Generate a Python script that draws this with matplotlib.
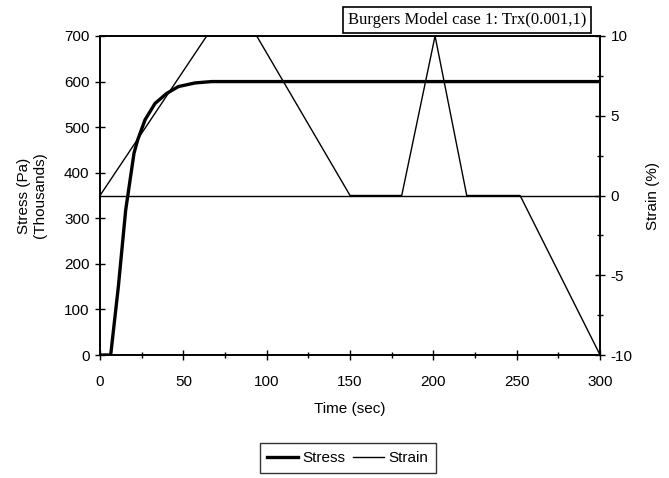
import numpy as np
import matplotlib.pyplot as plt
from matplotlib.ticker import MultipleLocator

# stress in thousands of Pa
stress_time = [0, 6.4, 11, 15.4, 20.4, 22.6, 27, 33, 40, 47, 57, 67, 300]
stress_val = [0, 0, 150, 318, 443, 472, 516, 552, 574, 589, 597, 600, 600]

# strain in %
strain_time = [0, 64, 94, 150, 181, 201, 220, 252, 300]
strain_val = [0, 10, 10, 0, 0, 10, 0, 0, -10]

plt.rcParams['font.family'] = ['Liberation Sans', 'DejaVu Sans']
plt.rcParams['axes.unicode_minus'] = False

fig = plt.figure(figsize=(6.69, 4.78), dpi=100)
ax = fig.add_axes([0.1495, 0.2573, 0.7475, 0.6674])
ax2 = ax.twinx()

l1, = ax.plot(stress_time, stress_val, color='black', lw=2.4, label='Stress')
l2, = ax2.plot(strain_time, strain_val, color='black', lw=1.0, label='Strain')
ax2.axhline(0, color='black', lw=1.0)

ax.set_xlim(0, 300)
ax.set_ylim(0, 700)
ax2.set_ylim(-10, 10)

ax.xaxis.set_major_locator(MultipleLocator(50))
ax.xaxis.set_minor_locator(MultipleLocator(25))
ax.yaxis.set_major_locator(MultipleLocator(100))
ax2.yaxis.set_major_locator(MultipleLocator(5))
ax2.yaxis.set_minor_locator(MultipleLocator(2.5))

ax.tick_params(axis='both', which='major', direction='inout', length=7, width=1, labelsize=11, pad=4)
ax.tick_params(axis='x', which='major', pad=11)
ax.tick_params(axis='both', which='minor', direction='inout', length=4, width=1)
ax2.tick_params(axis='y', which='major', direction='inout', length=7, width=1, labelsize=11, pad=4)
ax2.tick_params(axis='y', which='minor', direction='inout', length=4, width=1)

for a in (ax, ax2):
    for s in a.spines.values():
        s.set_linewidth(1.2)

ax.set_xlabel('Time (sec)', fontsize=11, labelpad=9)
ax.set_ylabel('Stress (Pa)\n(Thousands)', fontsize=11, labelpad=12)
ax2.set_ylabel('Strain (%)', fontsize=11, labelpad=10)

fig.text(0.698, 0.958, 'Burgers Model case 1: Trx(0.001,1)', fontsize=12,
         family=['Liberation Serif', 'DejaVu Serif'], ha='center', va='center',
         bbox=dict(boxstyle='square,pad=0.3', facecolor='white', edgecolor='black', lw=1.2))

fig.legend(handles=[l1, l2], loc='center', bbox_to_anchor=(0.52, 0.042), ncol=2,
           frameon=True, fancybox=False, edgecolor='black', fontsize=11,
           handlelength=2.0, handletextpad=0.3, columnspacing=0.5, borderpad=0.5)

fig.savefig('out.png', dpi=100)
